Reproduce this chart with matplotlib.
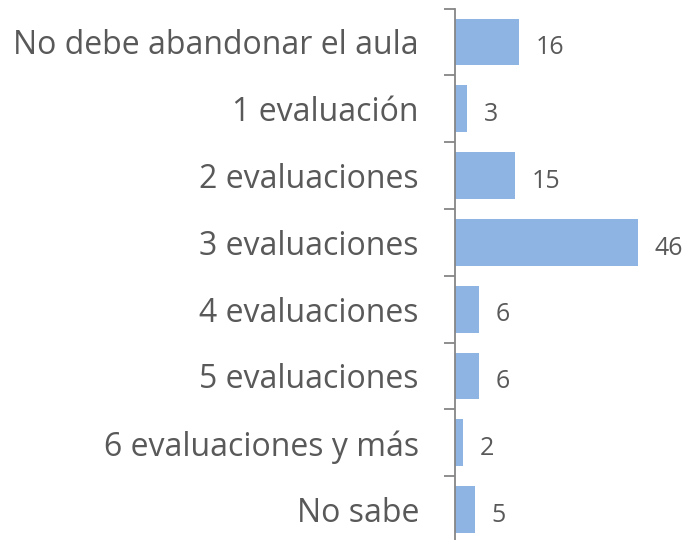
import matplotlib
matplotlib.use("Agg")
import matplotlib.pyplot as plt
from matplotlib.ticker import FixedLocator, NullLocator

categories = ["No debe abandonar el aula", "1 evaluación", "2 evaluaciones",
              "3 evaluaciones", "4 evaluaciones", "5 evaluaciones",
              "6 evaluaciones y más", "No sabe"]
values = [16, 3, 15, 46, 6, 6, 2, 5]

plt.rcParams['font.family'] = ['Open Sans', 'DejaVu Sans']

fig = plt.figure(figsize=(6.88, 5.40), dpi=100)
ax = fig.add_axes([455/688, 1-543/540, 233/688, (543-8.5)/540])

y = list(range(len(categories)))
ax.barh(y, values, height=0.7, color="#8DB4E2", edgecolor="none")
ax.set_ylim(len(categories)-0.5, -0.5)
ax.set_xlim(0, 233/3.98)

for yi, v in zip(y, values):
    ax.annotate(str(v), (v, yi), xytext=(12, -2), textcoords="offset points",
                va="center_baseline", ha="left", fontsize=18, color="#595959")

for s in ["top", "right", "bottom"]:
    ax.spines[s].set_visible(False)
ax.spines["left"].set_color("#868686")
ax.spines["left"].set_linewidth(1.3)

ax.xaxis.set_major_locator(NullLocator())
ax.yaxis.set_major_locator(FixedLocator([i - 0.5 for i in range(len(categories)+1)]))
ax.set_yticklabels([""] * (len(categories)+1))
ax.tick_params(axis="y", length=8, width=1.3, color="#868686", direction="out")
ax.yaxis.set_minor_locator(FixedLocator(y))
ax.set_yticklabels(categories, minor=True)
ax.tick_params(axis="y", which="minor", length=0, pad=26, labelsize=23, labelcolor="#595959")

fig.savefig("out.png", dpi=100)
